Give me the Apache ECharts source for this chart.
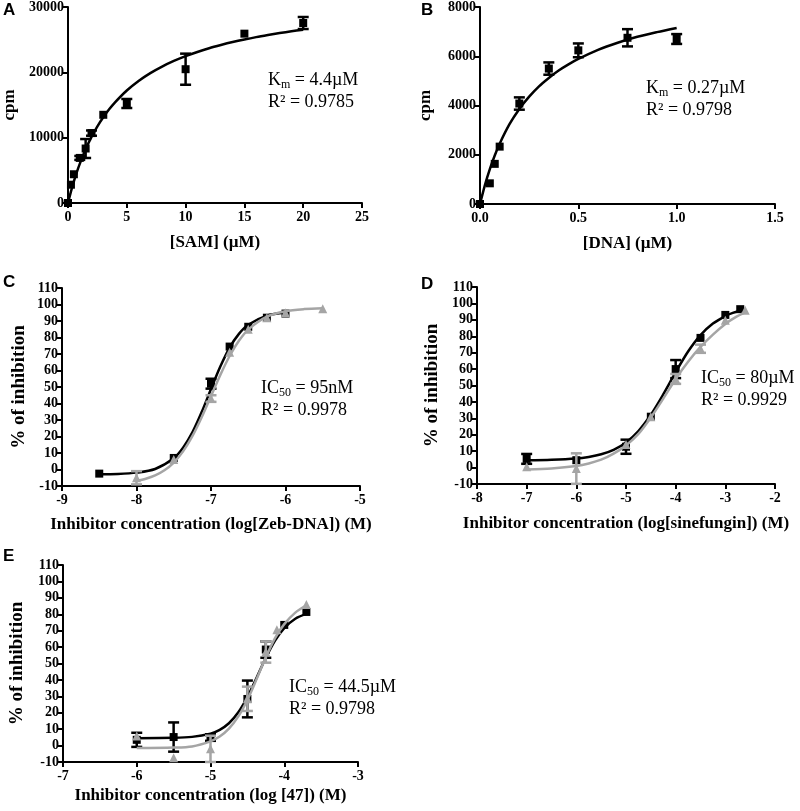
<!DOCTYPE html>
<html>
<head>
<meta charset="utf-8">
<script src="https://cdn.jsdelivr.net/npm/echarts@6/dist/echarts.min.js"></script>
<style>
html,body{margin:0;padding:0;background:#fff;}
#chart{width:800px;height:811px;}
</style>
</head>
<body>
<div id="chart"></div>
<script>
// ---------- Panel A: SAM ----------
const samX = [0, 0.25, 0.5, 1, 1.5, 2, 3, 5, 10, 15, 20];
const samY = [0, 2800, 4400, 6900, 8340, 10700, 13500, 15230, 20480, 25920, 27550];
const samErr = [0, 0, 0, 300, 1450, 400, 0, 690, 2380, 0, 920];
const samFitX = [0, 0.25, 0.5, 0.75, 1, 1.5, 2, 2.5, 3, 3.5, 4, 5, 6, 7, 8, 9, 10, 11, 12, 13, 14, 15, 16, 17, 18, 19, 20];
const samFitY = [0, 1740, 3300, 4710, 5990, 8230, 10120, 11730, 13120, 14340, 15410, 17220, 18680, 19880, 20880, 21740, 22480, 23120, 23690, 24180, 24630, 25030, 25390, 25710, 26010, 26280, 26530];

// ---------- Panel B: DNA ----------
const dnaX = [0, 0.05, 0.075, 0.1, 0.2, 0.35, 0.5, 0.75, 1.0];
const dnaY = [0, 840, 1630, 2330, 4080, 5500, 6240, 6750, 6700];
const dnaErr = [0, 0, 0, 0, 250, 250, 280, 350, 200];
const dnaFitX = [0, 0.025, 0.05, 0.075, 0.1, 0.15, 0.2, 0.25, 0.3, 0.35, 0.4, 0.45, 0.5, 0.6, 0.7, 0.8, 0.9, 1.0];
const dnaFitY = [0, 770, 1420, 1970, 2450, 3240, 3860, 4360, 4780, 5120, 5420, 5670, 5890, 6260, 6550, 6790, 6980, 7150];

// ---------- Panel C: Zeb-DNA ----------
const zebBlackX = [-8.5, -7.5, -7, -6.75, -6.5, -6.25, -6];
const zebBlackY = [-2.5, 7, 52, 74.5, 86.5, 92, 94.5];
const zebBlackErr = [0, 0, 3, 0, 0, 0, 0];
const zebGrayX = [-8, -7.5, -7, -6.75, -6.5, -6.25, -6, -5.5];
const zebGrayY = [-5, 6, 43, 71, 85, 92, 95, 97.5];
const zebGrayErr = [4, 0, 2, 0, 0, 0, 0, 0];
const zebBlackFitX = [-8.5, -8.25, -8, -7.75, -7.5, -7.375, -7.25, -7.125, -7, -6.875, -6.75, -6.625, -6.5, -6.25, -6];
const zebBlackFitY = [-2.9, -2.7, -1.9, 0.3, 6.8, 13.2, 22.5, 34.8, 48.8, 62.4, 73.9, 82.2, 87.7, 93.2, 95.1];
const zebGrayFitX = [-8, -7.875, -7.75, -7.625, -7.5, -7.375, -7.25, -7.125, -7, -6.875, -6.75, -6.625, -6.5, -6.25, -6, -5.75, -5.5];
const zebGrayFitY = [-6.9, -5.6, -3.6, -0.5, 4.2, 11, 20.2, 31.7, 44.5, 57.3, 68.8, 78, 84.8, 92.6, 95.9, 97.2, 97.7];

// ---------- Panel D: sinefungin ----------
const sinBlackX = [-7, -6, -5, -4.5, -4, -3.5, -3, -2.7];
const sinBlackY = [5.3, 4.5, 12.7, 31, 60, 79, 93, 96.5];
const sinBlackErr = [3, 0, 4.3, 0, 5.5, 0, 0, 0];
const sinGrayX = [-7, -6, -5, -4.5, -4, -3.5, -3, -2.6];
const sinGrayY = [0.5, -0.6, 14, 31, 54, 72.4, 89.7, 95.8];
const sinGrayErr = [0, 9.3, 0, 0, 3, 2.5, 0, 0];
const sinBlackFitX = [-7, -6.5, -6, -5.75, -5.5, -5.25, -5, -4.75, -4.5, -4.25, -4, -3.75, -3.5, -3.25, -3, -2.85, -2.7];
const sinBlackFitY = [4.4, 4.7, 5.5, 6.5, 8.1, 10.8, 15.3, 22.3, 32.2, 44.6, 58.1, 70.7, 80.7, 87.7, 92.3, 94.2, 95.5];
const sinGrayFitX = [-7, -6.5, -6, -5.75, -5.5, -5.25, -5, -4.75, -4.5, -4.25, -4, -3.75, -3.5, -3.25, -3, -2.8, -2.6];
const sinGrayFitY = [-1.2, -0.5, 1.0, 2.5, 4.8, 8.5, 13.5, 20.5, 30.5, 42, 54, 64.5, 73.5, 81, 87.5, 91.5, 94.5];

// ---------- Panel E: compound 47 ----------
const c47BlackX = [-6, -5.5, -5, -4.5, -4.25, -4, -3.7];
const c47BlackY = [3.5, 5.2, 4.9, 28.4, 58.5, 73.5, 81.4];
const c47BlackErr = [4.3, 8.9, 2, 11.2, 5, 0, 0];
const c47GrayX = [-6, -5.5, -5, -4.5, -4.25, -4.1, -3.7];
const c47GrayY = [5.9, -7.4, -2, 28.5, 57, 70.5, 86];
const c47GrayErr = [0, 0, 8, 7.4, 6.5, 0, 0];
const c47BlackFitX = [-6, -5.5, -5.25, -5, -4.875, -4.75, -4.625, -4.5, -4.375, -4.25, -4.125, -4, -3.85, -3.7];
const c47BlackFitY = [4.5, 4.7, 5.3, 7.3, 9.6, 13.6, 20.1, 29.5, 41.3, 53.5, 64, 71.6, 77.3, 80.2];
const c47GrayFitX = [-6, -5.5, -5.25, -5, -4.875, -4.75, -4.625, -4.5, -4.375, -4.25, -4.125, -4, -3.85, -3.7];
const c47GrayFitY = [-1.5, -1.2, -0.5, 2.6, 5.5, 10.3, 17.6, 27.8, 40.5, 53.8, 65.5, 74, 81, 85.5];

// ---------- helpers ----------
const BLACK = '#000000';
const GRAY = '#a5a5a5';
const SERIF = '"Liberation Serif", "Times New Roman", serif';

const zip = (xs, ys) => xs.map((x, i) => [x, ys[i]]);
const zip3 = (xs, ys, es) => xs.map((x, i) => [x, ys[i], es[i]]);

function xAxis(gi, min, max, interval, name, nameGap, dec) {
  return {
    type: 'value', gridIndex: gi, min, max, interval,
    name, nameLocation: 'middle', nameGap,
    nameTextStyle: {fontFamily: SERIF, fontWeight: 'bold', fontSize: 17, color: '#000'},
    axisLine: {onZero: false, lineStyle: {color: '#000', width: 2}},
    axisTick: {length: 5, lineStyle: {color: '#000', width: 2}},
    splitLine: {show: false},
    axisLabel: {color: '#000', fontFamily: SERIF, fontWeight: 'bold', fontSize: 14, margin: 7,
      formatter: v => dec ? v.toFixed(dec) : String(v)}
  };
}
function yAxis(gi, min, max, interval, name, nameGap, nameSize) {
  return {
    type: 'value', gridIndex: gi, min, max, interval,
    name, nameLocation: 'middle', nameGap, nameRotate: 90,
    nameTextStyle: {fontFamily: SERIF, fontWeight: 'bold', fontSize: nameSize, color: '#000'},
    axisLine: {onZero: false, lineStyle: {color: '#000', width: 2}},
    axisTick: {length: 5, lineStyle: {color: '#000', width: 2}},
    splitLine: {show: false},
    axisLabel: {color: '#000', fontFamily: SERIF, fontWeight: 'bold', fontSize: 14, margin: 4,
      formatter: v => String(v)}
  };
}
function fitLine(gi, xs, ys, color, z) {
  return {
    type: 'line', xAxisIndex: gi, yAxisIndex: gi, data: zip(xs, ys),
    smooth: 0.3, showSymbol: false, symbol: 'none',
    lineStyle: {color, width: 2.5}, z, silent: true
  };
}
function points(gi, xs, ys, color, symbol, size, z) {
  return {
    type: 'scatter', xAxisIndex: gi, yAxisIndex: gi, data: zip(xs, ys),
    symbol, symbolSize: size, itemStyle: {color, opacity: 1}, z, silent: true
  };
}
function errBars(gi, xs, ys, es, color, z) {
  return {
    type: 'custom', xAxisIndex: gi, yAxisIndex: gi, data: zip3(xs, ys, es), z, silent: true,
    renderItem: function (params, api) {
      const x = api.value(0), y = api.value(1), e = api.value(2);
      if (!e) return null;
      const hi = api.coord([x, y + e]);
      const lo = api.coord([x, y - e]);
      const w = 5.5;
      const st = {stroke: color, lineWidth: 2.5};
      return {
        type: 'group',
        children: [
          {type: 'line', shape: {x1: hi[0], y1: hi[1], x2: lo[0], y2: lo[1]}, style: st},
          {type: 'line', shape: {x1: hi[0] - w, y1: hi[1], x2: hi[0] + w, y2: hi[1]}, style: st},
          {type: 'line', shape: {x1: lo[0] - w, y1: lo[1], x2: lo[0] + w, y2: lo[1]}, style: st}
        ]
      };
    }
  };
}
const annRich = {
  n: {fontFamily: SERIF, fontSize: 18, lineHeight: 22, color: '#000'},
  s: {fontFamily: SERIF, fontSize: 12, lineHeight: 12, verticalAlign: 'bottom', color: '#000'}
};
function annot(left, top, line1, line2) {
  return {
    type: 'text', left, top,
    style: {text: line1 + '\n' + line2, rich: annRich}
  };
}
function letter(left, top, t) {
  return {
    type: 'text', left, top,
    style: {text: t, fontFamily: '"Liberation Sans", Arial, sans-serif', fontWeight: 'bold', fontSize: 17, fill: '#000'}
  };
}

const option = {
  backgroundColor: '#fff',
  animation: false,
  grid: [
    {left: 67, top: 7, width: 295, height: 196},
    {left: 480, top: 7, width: 295, height: 197},
    {left: 62, top: 288, width: 298, height: 198},
    {left: 477, top: 287, width: 298, height: 197},
    {left: 63, top: 565, width: 295, height: 197}
  ],
  xAxis: [
    xAxis(0, 0, 25, 5, '[SAM] (\u00b5M)', 31, 0),
    xAxis(1, 0, 1.5, 0.5, '[DNA] (\u00b5M)', 31, 1),
    xAxis(2, -9, -5, 1, 'Inhibitor concentration (log[Zeb-DNA]) (M)', 30, 0),
    xAxis(3, -8, -2, 1, 'Inhibitor concentration (log[sinefungin]) (M)', 31, 0),
    xAxis(4, -7, -3, 1, 'Inhibitor concentration (log [47]) (M)', 25, 0)
  ],
  yAxis: [
    yAxis(0, 0, 30000, 10000, 'cpm', 50, 17),
    yAxis(1, 0, 8000, 2000, 'cpm', 46, 17),
    yAxis(2, -10, 110, 10, '% of inhibition', 33, 19),
    yAxis(3, -10, 110, 10, '% of inhibition', 35, 19),
    yAxis(4, -10, 110, 10, '% of inhibition', 36, 19)
  ],
  series: [
    // A
    fitLine(0, samFitX, samFitY, BLACK, 2),
    errBars(0, samX, samY, samErr, BLACK, 3),
    points(0, samX, samY, BLACK, 'rect', 8, 4),
    // B
    fitLine(1, dnaFitX, dnaFitY, BLACK, 2),
    errBars(1, dnaX, dnaY, dnaErr, BLACK, 3),
    points(1, dnaX, dnaY, BLACK, 'rect', 8, 4),
    // C
    fitLine(2, zebBlackFitX, zebBlackFitY, BLACK, 2),
    errBars(2, zebBlackX, zebBlackY, zebBlackErr, BLACK, 3),
    points(2, zebBlackX, zebBlackY, BLACK, 'rect', 8, 4),
    fitLine(2, zebGrayFitX, zebGrayFitY, GRAY, 5),
    errBars(2, zebGrayX, zebGrayY, zebGrayErr, GRAY, 6),
    points(2, zebGrayX, zebGrayY, GRAY, 'triangle', 9, 7),
    // D
    fitLine(3, sinBlackFitX, sinBlackFitY, BLACK, 2),
    errBars(3, sinBlackX, sinBlackY, sinBlackErr, BLACK, 3),
    points(3, sinBlackX, sinBlackY, BLACK, 'rect', 8, 4),
    fitLine(3, sinGrayFitX, sinGrayFitY, GRAY, 5),
    errBars(3, sinGrayX, sinGrayY, sinGrayErr, GRAY, 6),
    points(3, sinGrayX, sinGrayY, GRAY, 'triangle', 9, 7),
    // E
    fitLine(4, c47BlackFitX, c47BlackFitY, BLACK, 2),
    errBars(4, c47BlackX, c47BlackY, c47BlackErr, BLACK, 3),
    points(4, c47BlackX, c47BlackY, BLACK, 'rect', 8, 4),
    fitLine(4, c47GrayFitX, c47GrayFitY, GRAY, 5),
    errBars(4, c47GrayX, c47GrayY, c47GrayErr, GRAY, 6),
    points(4, c47GrayX, c47GrayY, GRAY, 'triangle', 9, 7)
  ],
  graphic: [
    letter(3, 2, 'A'),
    letter(421, 2, 'B'),
    letter(3, 274, 'C'),
    letter(421, 276, 'D'),
    letter(3, 548, 'E'),
    annot(268, 71, '{n|K}{s|m}{n| = 4.4\u00b5M}', '{n|R\u00b2 = 0.9785}'),
    annot(646, 79, '{n|K}{s|m}{n| = 0.27\u00b5M}', '{n|R\u00b2 = 0.9798}'),
    annot(261, 379, '{n|IC}{s|50}{n| = 95nM}', '{n|R\u00b2 = 0.9978}'),
    annot(701, 369, '{n|IC}{s|50}{n| = 80\u00b5M}', '{n|R\u00b2 = 0.9929}'),
    annot(289, 678, '{n|IC}{s|50}{n| = 44.5\u00b5M}', '{n|R\u00b2 = 0.9798}')
  ]
};

const chart = echarts.init(document.getElementById('chart'), null, {renderer: 'canvas'});
chart.setOption(option);
</script>
</body>
</html>
